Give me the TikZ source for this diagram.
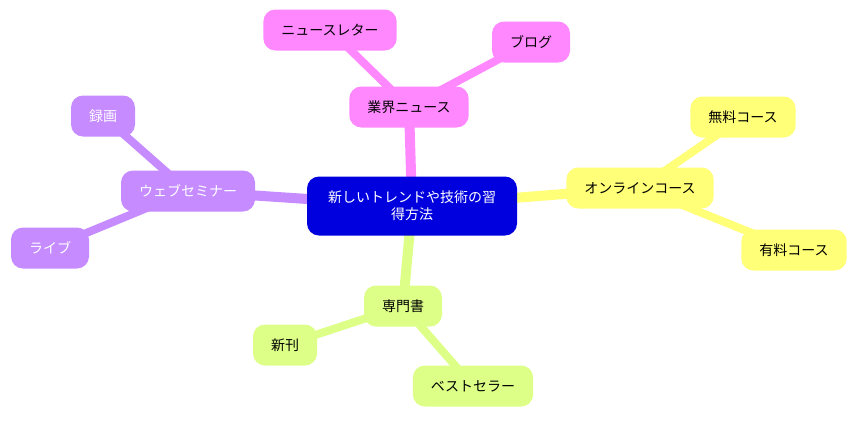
\documentclass[tikz,border=0pt]{standalone}
\usepackage{fontspec}
\setmainfont{Noto Sans CJK JP}
\usetikzlibrary{backgrounds}
\pgfdeclarelayer{background}
\pgfsetlayers{background,main}
\definecolor{rootblue}{RGB}{0,0,222}
\definecolor{newspink}{RGB}{255,136,255}
\definecolor{courseyellow}{RGB}{255,255,120}
\definecolor{bookgreen}{RGB}{221,255,136}
\definecolor{webpurple}{RGB}{197,139,255}
\newcommand{\Fs}{\fontsize{14pt}{17pt}\selectfont}
\tikzset{Topic/.style={
    inner xsep=18pt,
    inner ysep=0pt,
    minimum height=41pt,
    rounded corners=12pt,
    font=\Fs,
    text=black,
    }
}
\begin{document}
\begin{tikzpicture}[x=1pt,y=-1pt,
    root/.style={Topic, fill=rootblue, text=white, align=center,
      minimum width=210pt, minimum height=59pt},
    main/.style={line width=10pt},
    sub/.style={line width=8pt},
]
\useasboundingbox (0,0) rectangle (859,421);
% centre
\node [root] (root) at (412,206) {新しいトレンドや技術の習\\得方法};
% news
\node [Topic,fill=newspink] (news) at (409,107) {業界ニュース};
\node [Topic,fill=newspink] (letter) at (330,30) {ニュースレター};
\node [Topic,fill=newspink] (blog) at (531,42) {ブログ};
% courses
\node [Topic,fill=courseyellow] (online) at (640,188) {オンラインコース};
\node [Topic,fill=courseyellow] (free) at (743,117) {無料コース};
\node [Topic,fill=courseyellow] (paid) at (794,250) {有料コース};
% books
\node [Topic,fill=bookgreen] (books) at (403,306) {専門書};
\node [Topic,fill=bookgreen] (newbook) at (285,345) {新刊};
\node [Topic,fill=bookgreen] (best) at (473,386) {ベストセラー};
% webinars
\node [Topic,fill=webpurple,text=white] (webinar) at (188,191) {ウェブセミナー};
\node [Topic,fill=webpurple,text=white] (record) at (103,116) {録画};
\node [Topic,fill=webpurple,text=white] (live) at (50,248) {ライブ};
\begin{pgfonlayer}{background}
\draw [main,newspink] (root.center) -- (news.center);
\draw [sub,newspink] (news.center) -- (letter.center);
\draw [sub,newspink] (news.center) -- (blog.center);
\draw [main,courseyellow] (root.center) -- (online.center);
\draw [sub,courseyellow] (online.center) -- (free.center);
\draw [sub,courseyellow] (online.center) -- (paid.center);
\draw [main,bookgreen] (root.center) -- (books.center);
\draw [sub,bookgreen] (books.center) -- (newbook.center);
\draw [sub,bookgreen] (books.center) -- (best.center);
\draw [main,webpurple] (root.center) -- (webinar.center);
\draw [sub,webpurple] (webinar.center) -- (record.center);
\draw [sub,webpurple] (webinar.center) -- (live.center);
\end{pgfonlayer}
\end{tikzpicture}
\end{document}
